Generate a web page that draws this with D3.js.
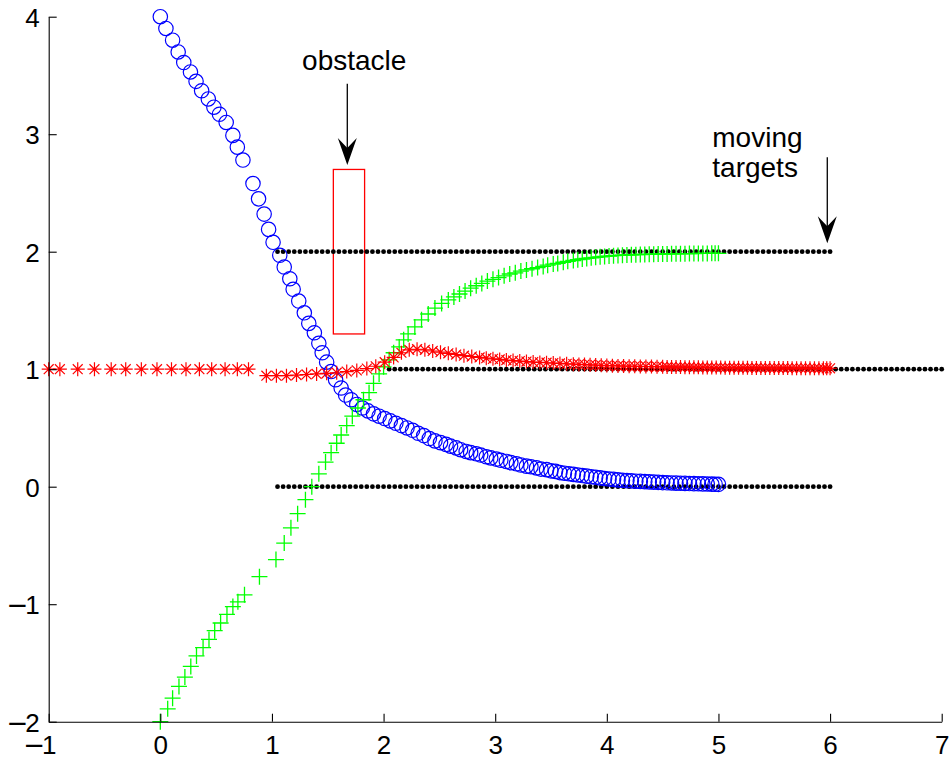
<!DOCTYPE html>
<html>
<head>
<meta charset="utf-8">
<script src="https://cdn.jsdelivr.net/npm/d3@7"></script>
<style>
  html, body { margin: 0; padding: 0; background: #fff; }
  svg text { font-family: "Liberation Sans", Arial, Helvetica, sans-serif; fill: #000; }
</style>
</head>
<body>
<svg id="chart" width="951" height="761"></svg>
<script>
// ---- axis ticks ----
const xTicks = [-1, 0, 1, 2, 3, 4, 5, 6, 7];
const yTicks = [-2, -1, 0, 1, 2, 3, 4];

// ---- moving targets: sampled positions along three lanes ----
const targetLaneY = [2, 1, 0];
const targetXOuter = [
  1.05,1.1,1.15,1.2,1.25,1.3,1.35,1.4,1.45,1.5,
  1.55,1.6,1.65,1.7,1.75,1.8,1.85,1.9,1.95,2,
  2.05,2.1,2.15,2.2,2.25,2.3,2.35,2.4,2.45,2.5,
  2.55,2.6,2.65,2.7,2.75,2.8,2.85,2.9,2.95,3,
  3.05,3.1,3.15,3.2,3.25,3.3,3.35,3.4,3.45,3.5,
  3.55,3.6,3.65,3.7,3.75,3.8,3.85,3.9,3.95,4,
  4.05,4.1,4.15,4.2,4.25,4.3,4.35,4.4,4.45,4.5,
  4.55,4.6,4.65,4.7,4.75,4.8,4.85,4.9,4.95,5,
  5.05,5.1,5.15,5.2,5.25,5.3,5.35,5.4,5.45,5.5,
  5.55,5.6,5.65,5.7,5.75,5.8,5.85,5.9,5.95,6
];
const targetXMiddle = [
  2.05,2.1,2.15,2.2,2.25,2.3,2.35,2.4,2.45,2.5,
  2.55,2.6,2.65,2.7,2.75,2.8,2.85,2.9,2.95,3,
  3.05,3.1,3.15,3.2,3.25,3.3,3.35,3.4,3.45,3.5,
  3.55,3.6,3.65,3.7,3.75,3.8,3.85,3.9,3.95,4,
  4.05,4.1,4.15,4.2,4.25,4.3,4.35,4.4,4.45,4.5,
  4.55,4.6,4.65,4.7,4.75,4.8,4.85,4.9,4.95,5,
  5.05,5.1,5.15,5.2,5.25,5.3,5.35,5.4,5.45,5.5,
  5.55,5.6,5.65,5.7,5.75,5.8,5.85,5.9,5.95,6,
  6.05,6.1,6.15,6.2,6.25,6.3,6.35,6.4,6.45,6.5,
  6.55,6.6,6.65,6.7,6.75,6.8,6.85,6.9,6.95,7
];
const targetLaneX = [targetXOuter, targetXMiddle, targetXOuter];

// ---- agent 1 (blue circles) ----
const blueX = [
  0,0.05,0.11,0.16,0.21,0.27,0.32,0.37,0.43,0.48,0.53,0.59,0.65,0.69,0.74,
  0.83,0.88,0.93,0.97,1.01,1.07,1.11,1.16,1.19,1.24,1.29,1.33,1.38,1.42,1.45,1.49,1.53,1.57,1.62,1.66,1.71,1.76,
  1.81,1.86,1.91,1.96,2.01,2.06,2.11,2.16,2.21,2.26,2.31,2.36,2.41,2.46,2.51,2.56,2.6,2.65,2.69,2.74,
  2.78,2.83,2.87,2.92,2.96,3.01,3.05,3.1,3.14,3.19,3.23,3.28,3.32,3.37,3.41,3.46,3.5,3.54,3.58,3.62,
  3.66,3.7,3.74,3.78,3.82,3.86,3.9,3.94,3.98,4.02,4.06,4.1,4.14,4.18,4.22,4.26,4.3,4.34,4.38,4.42,
  4.46,4.5,4.54,4.58,4.62,4.66,4.7,4.74,4.78,4.82,4.86,4.9,4.94,4.97,5
];
const blueY = [
  4,3.9,3.8,3.7,3.61,3.53,3.45,3.37,3.3,3.23,3.17,3.1,2.99,2.89,2.78,
  2.58,2.45,2.32,2.19,2.08,1.97,1.87,1.77,1.68,1.58,1.48,1.39,1.31,1.22,1.14,1.06,0.98,0.91,0.84,0.78,0.74,0.7,
  0.67,0.645,0.62,0.6,0.58,0.56,0.54,0.52,0.5,0.48,0.455,0.435,0.41,0.39,0.375,0.36,0.345,0.33,0.315,0.3,
  0.29,0.28,0.27,0.255,0.245,0.235,0.225,0.215,0.205,0.195,0.185,0.175,0.17,0.16,0.15,0.145,0.135,0.13,0.12,0.115,
  0.11,0.105,0.1,0.095,0.09,0.085,0.08,0.075,0.07,0.065,0.062,0.058,0.055,0.052,0.05,0.047,0.045,0.043,0.041,0.039,
  0.037,0.035,0.033,0.032,0.03,0.029,0.028,0.027,0.026,0.025,0.024,0.023,0.022,0.021,0.02
];

// ---- agent 2 (green pluses) ----
const greenX = [
  0,0.066,0.11,0.167,0.22,0.273,0.324,0.383,0.436,0.487,0.54,0.597,0.65,0.695,0.754,
  0.888,1.036,1.11,1.17,1.23,1.3,1.357,1.42,1.48,1.53,1.58,1.62,1.67,1.72,1.77,1.82,1.87,1.91,1.96,2,
  2.05,2.09,2.14,2.18,2.22,2.28,2.34,2.4,2.46,2.52,2.58,
  2.63,2.68,2.73,2.78,2.83,2.88,2.93,2.98,3.03,3.08,3.13,3.18,3.23,3.28,3.33,3.38,3.43,3.47,3.52,3.56,
  3.61,3.65,3.7,3.74,3.78,3.82,3.86,3.9,3.94,3.98,4.02,4.06,4.1,4.14,4.18,4.22,4.26,4.3,4.34,4.38,
  4.42,4.46,4.5,4.54,4.58,4.62,4.66,4.7,4.74,4.78,4.82,4.86,4.9,4.94,4.97,5
];
const greenY = [
  -2,-1.89,-1.8,-1.7,-1.62,-1.53,-1.44,-1.37,-1.3,-1.225,-1.16,-1.086,-1.02,-0.98,-0.92,
  -0.766,-0.62,-0.48,-0.35,-0.23,-0.11,0,0.11,0.21,0.29,0.37,0.44,0.52,0.6,0.67,0.74,0.8,0.88,0.96,1.02,
  1.08,1.14,1.19,1.25,1.3,1.36,1.42,1.47,1.52,1.56,1.59,
  1.615,1.64,1.665,1.69,1.71,1.73,1.75,1.765,1.78,1.795,1.81,1.82,1.835,1.845,1.855,1.865,1.875,1.885,1.895,1.9,
  1.91,1.918,1.925,1.932,1.938,1.943,1.948,1.952,1.956,1.96,1.963,1.966,1.968,1.97,1.972,1.974,1.975,1.976,1.977,1.978,
  1.979,1.98,1.981,1.981,1.982,1.982,1.983,1.983,1.984,1.984,1.985,1.985,1.985,1.986,1.986,1.986
];

// ---- agent 3 (red asterisks) ----
const redX = [
  -1,-0.9,-0.74,-0.59,-0.44,-0.31,-0.17,-0.03,0.1,0.23,0.35,0.46,0.58,0.69,0.79,
  0.95,1.04,1.13,1.22,1.31,1.4,1.49,1.58,1.67,1.76,1.85,1.93,2.01,2.09,2.16,2.23,2.3,2.37,2.44,2.51,
  2.58,2.65,2.72,2.79,2.86,2.92,2.98,3.04,3.1,3.16,3.22,3.28,3.34,3.4,3.46,3.52,3.58,3.64,3.7,3.75,
  3.8,3.85,3.9,3.95,4,4.05,4.1,4.15,4.2,4.25,4.3,4.35,4.4,4.45,4.5,4.54,4.58,4.62,4.66,4.7,
  4.74,4.78,4.82,4.86,4.9,4.94,4.98,5.02,5.06,5.1,5.14,5.18,5.22,5.26,5.3,5.34,5.38,5.42,5.46,5.5,
  5.54,5.58,5.62,5.66,5.7,5.74,5.78,5.82,5.86,5.9,5.94,5.97,6
];
const redY = [
  1,1,1,1,1,1,1,1,1,1,1,1,1,1,1,
  0.945,0.945,0.945,0.95,0.955,0.96,0.965,0.97,0.98,0.99,1.005,1.025,1.06,1.1,1.14,1.165,1.17,1.165,1.155,1.145,
  1.135,1.125,1.115,1.108,1.1,1.094,1.088,1.083,1.078,1.073,1.069,1.065,1.061,1.058,1.055,1.052,1.049,1.046,1.043,1.041,
  1.039,1.037,1.035,1.033,1.031,1.03,1.028,1.027,1.026,1.025,1.024,1.023,1.022,1.021,1.02,1.019,1.019,1.018,1.018,1.017,
  1.017,1.016,1.016,1.015,1.015,1.014,1.014,1.014,1.013,1.013,1.013,1.012,1.012,1.012,1.011,1.011,1.011,1.011,1.01,1.01,
  1.01,1.01,1.01,1.009,1.009,1.009,1.009,1.009,1.008,1.008,1.008,1.008,1.008
];

// ---- obstacle box and annotations ----
const obstacleX = [1.55, 1.83];
const obstacleY = [1.3, 2.7];
const annotations = [
  { lines: ["obstacle"], textX: 1.27, textY: 3.55, arrowX: 1.675, arrowFrom: 3.43, arrowTo: 2.738 },
  { lines: ["moving", "targets"], textX: 4.945, textY: 2.893, arrowX: 5.975, arrowFrom: 2.803, arrowTo: 2.071 }
];

// ---- scales ----
const x = d3.scaleLinear().domain([-1, 7]).range([48.7, 941.7]);
const y = d3.scaleLinear().domain([-2, 4]).range([721.7, 16.7]);

const svg = d3.select("#chart");
svg.append("rect").attr("width", 951).attr("height", 761).attr("fill", "#fff");

// obstacle rectangle
svg.append("rect")
  .attr("x", x(obstacleX[0]))
  .attr("y", y(obstacleY[1]))
  .attr("width", x(obstacleX[1]) - x(obstacleX[0]))
  .attr("height", y(obstacleY[0]) - y(obstacleY[1]))
  .attr("fill", "none")
  .attr("stroke", "#ff0000")
  .attr("stroke-width", 1.3);

// target dots
targetLaneY.forEach((laneY, i) => {
  svg.append("g").selectAll("circle")
    .data(targetLaneX[i])
    .join("circle")
    .attr("cx", d => x(d))
    .attr("cy", y(laneY))
    .attr("r", 2.4)
    .attr("fill", "#000");
});

// blue circles
svg.append("g").selectAll("circle")
  .data(d3.zip(blueX, blueY))
  .join("circle")
  .attr("cx", d => x(d[0]))
  .attr("cy", d => y(d[1]))
  .attr("r", 7.2)
  .attr("fill", "none")
  .attr("stroke", "#0000ff")
  .attr("stroke-width", 1.2);

// green pluses
const ps = 8;
svg.append("g").selectAll("path")
  .data(d3.zip(greenX, greenY))
  .join("path")
  .attr("transform", d => `translate(${x(d[0])},${y(d[1])})`)
  .attr("d", `M${-ps},0H${ps}M0,${-ps}V${ps}`)
  .attr("fill", "none")
  .attr("stroke", "#00ff00")
  .attr("stroke-width", 1.3);

// red asterisks
const as = 7, ad = 7 * 0.707;
svg.append("g").selectAll("path")
  .data(d3.zip(redX, redY))
  .join("path")
  .attr("transform", d => `translate(${x(d[0])},${y(d[1])})`)
  .attr("d", `M${-as},0H${as}M0,${-as}V${as}M${-ad},${-ad}L${ad},${ad}M${-ad},${ad}L${ad},${-ad}`)
  .attr("fill", "none")
  .attr("stroke", "#ff0000")
  .attr("stroke-width", 1.2);

// annotations with arrows
annotations.forEach(a => {
  const t = svg.append("text")
    .attr("x", x(a.textX))
    .attr("y", y(a.textY))
    .attr("font-size", 28);
  a.lines.forEach((ln, i) => {
    t.append("tspan").attr("x", x(a.textX)).attr("dy", i === 0 ? 0 : 30.6).text(ln);
  });
  const ax = x(a.arrowX), y0 = y(a.arrowFrom), y1 = y(a.arrowTo);
  svg.append("line")
    .attr("x1", ax).attr("x2", ax)
    .attr("y1", y0).attr("y2", y1 - 14)
    .attr("stroke", "#000").attr("stroke-width", 1.3);
  svg.append("path")
    .attr("d", `M${ax},${y1}L${ax - 9.5},${y1 - 27}L${ax},${y1 - 17}L${ax + 9.5},${y1 - 27}Z`)
    .attr("fill", "#000");
});

// axes
const tickFont = 26;
const gx = svg.append("g")
  .attr("transform", `translate(0,${y(-2)})`)
  .call(d3.axisBottom(x).tickValues(xTicks).tickSize(-8).tickSizeOuter(0).tickFormat(d => d));
const gy = svg.append("g")
  .attr("transform", `translate(${x(-1)},0)`)
  .call(d3.axisLeft(y).tickValues(yTicks).tickSize(-8).tickSizeOuter(0).tickFormat(d => d));

[gx, gy].forEach(g => {
  g.select(".domain").attr("stroke", "#000").attr("stroke-width", 1.1);
  g.selectAll(".tick line").attr("stroke", "#000").attr("stroke-width", 1.1);
  g.selectAll("text").attr("font-size", tickFont).attr("font-family", null).attr("fill", "#000");
});

function signedLabel(sel) {
  sel.each(function(d) {
    const t = d3.select(this);
    t.text(null);
    if (d < 0) {
      t.append("tspan").attr("font-family", "DejaVu Sans").text("\u2212");
      t.append("tspan").attr("dx", -3).text(Math.abs(d));
    } else {
      t.append("tspan").text(d);
    }
  });
}

gx.selectAll(".tick text")
  .attr("y", 32).attr("dy", null)
  .attr("text-anchor", "end")
  .attr("x", tickFont * 0.278)
  .call(signedLabel);

gy.selectAll(".tick text")
  .attr("x", -9).attr("dy", "0.37em")
  .attr("text-anchor", "end")
  .call(signedLabel);
</script>
</body>
</html>
